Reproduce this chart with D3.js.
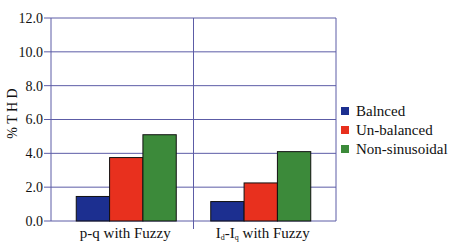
<!DOCTYPE html>
<html>
<head>
<meta charset="utf-8">
<script src="https://cdn.jsdelivr.net/npm/d3@7"></script>
<style>
    body { margin: 0; background: #fff; }
    #chart text { font-family: "Liberation Serif", "Times New Roman", serif; }
</style>
</head>
<body>
<div id="chart"></div>
<script>
// chart data
const categories = ['pq', 'dq'];
const seriesNames = ['Balnced', 'Un-balanced', 'Non-sinusoidal'];
const balanced = [1.45, 1.15];
const unbalanced = [3.75, 2.25];
const nonSinusoidal = [5.1, 4.1];
const yTicks = [0, 2, 4, 6, 8, 10, 12];

let colorRange = ['#1c2f90', '#e8301e', '#3c8a3a'];  // blue, red, green

let drawChart = () => {
    const width = 460, height = 242;
    const margin = { top: 18, bottom: 21, left: 51, right: 124 };
    const gridColor = '#5c5ca6';

    const svg = d3.select('#chart')
        .append('svg')
        .attr('width', width)
        .attr('height', height)
        .attr('fill', '#111');

    const y = d3.scaleLinear()
        .domain([0, 12])
        .range([height - margin.bottom, margin.top]);

    const x0 = d3.scaleBand()
        .domain(categories)
        .range([margin.left, width - margin.right]);

    const x1 = d3.scaleBand()
        .domain(seriesNames)
        .range([(x0.bandwidth() - 100) / 2, (x0.bandwidth() + 100) / 2]);

    const color = d3.scaleOrdinal(seriesNames, colorRange);

    // horizontal grid
    svg.append('g')
        .selectAll('line')
        .data(yTicks)
        .join('line')
        .attr('x1', margin.left - 7)
        .attr('x2', width - margin.right)
        .attr('y1', d => y(d))
        .attr('y2', d => y(d))
        .attr('stroke', gridColor)
        .attr('stroke-width', 1);

    // vertical lines: left, between groups, right
    const vLines = [
        { x: margin.left, y2: y(0) },
        { x: x0(categories[1]), y2: y(0) + 8 },
        { x: width - margin.right, y2: y(0) }
    ];
    svg.append('g')
        .selectAll('line')
        .data(vLines)
        .join('line')
        .attr('x1', d => d.x)
        .attr('x2', d => d.x)
        .attr('y1', y(12))
        .attr('y2', d => d.y2)
        .attr('stroke', gridColor)
        .attr('stroke-width', 1);

    // y tick labels
    svg.append('g')
        .selectAll('text')
        .data(yTicks)
        .join('text')
        .attr('x', margin.left - 8)
        .attr('y', d => y(d))
        .attr('dy', '0.35em')
        .attr('text-anchor', 'end')
        .attr('font-size', '14px')
        .text(d => d.toFixed(1));

    // bars
    const rows = categories.map((c, i) => ({
        cat: c,
        values: [balanced[i], unbalanced[i], nonSinusoidal[i]]
    }));

    svg.append('g')
        .selectAll('g')
        .data(rows)
        .join('g')
        .attr('transform', d => `translate(${x0(d.cat) + (d.cat === 'pq' ? 4 : -4)},0)`)
        .selectAll('rect')
        .data(d => d.values.map((v, j) => ({ name: seriesNames[j], value: v })))
        .join('rect')
        .attr('x', d => x1(d.name))
        .attr('y', d => y(d.value))
        .attr('width', x1.bandwidth())
        .attr('height', d => y(0) - y(d.value))
        .attr('fill', d => color(d.name))
        .attr('stroke', '#111')
        .attr('stroke-width', 1);

    // category labels
    const labelY = 238;
    svg.append('text')
        .attr('x', x0('pq') + x0.bandwidth() / 2 + 3)
        .attr('y', labelY)
        .attr('text-anchor', 'middle')
        .attr('font-size', '15px')
        .text('p-q with Fuzzy');

    const lbl2 = svg.append('text')
        .attr('x', x0('dq') + x0.bandwidth() / 2 - 2)
        .attr('y', labelY)
        .attr('text-anchor', 'middle')
        .attr('font-size', '15px');
    lbl2.append('tspan').text('I');
    lbl2.append('tspan').attr('font-size', '8px').attr('dy', 2).text('d');
    lbl2.append('tspan').attr('dy', -2).text('-I');
    lbl2.append('tspan').attr('font-size', '8px').attr('dy', 2).text('q');
    lbl2.append('tspan').attr('dy', -2).text(' with Fuzzy');

    // y axis title
    svg.append('text')
        .attr('transform', `translate(17,${(y(0) + y(12)) / 2 - 6}) rotate(-90)`)
        .attr('text-anchor', 'middle')
        .attr('font-size', '14px')
        .text('% T H D');

    // legend
    const legend = svg.append('g')
        .selectAll('g')
        .data(seriesNames)
        .join('g')
        .attr('transform', (d, i) => `translate(341,${111 + i * 19})`);

    legend.append('rect')
        .attr('x', 0)
        .attr('y', -4)
        .attr('width', 8)
        .attr('height', 8)
        .attr('fill', d => color(d));

    legend.append('text')
        .attr('x', 15)
        .attr('y', 0)
        .attr('dy', '0.35em')
        .attr('font-size', '15px')
        .text(d => d);
}

drawChart();
</script>
</body>
</html>
